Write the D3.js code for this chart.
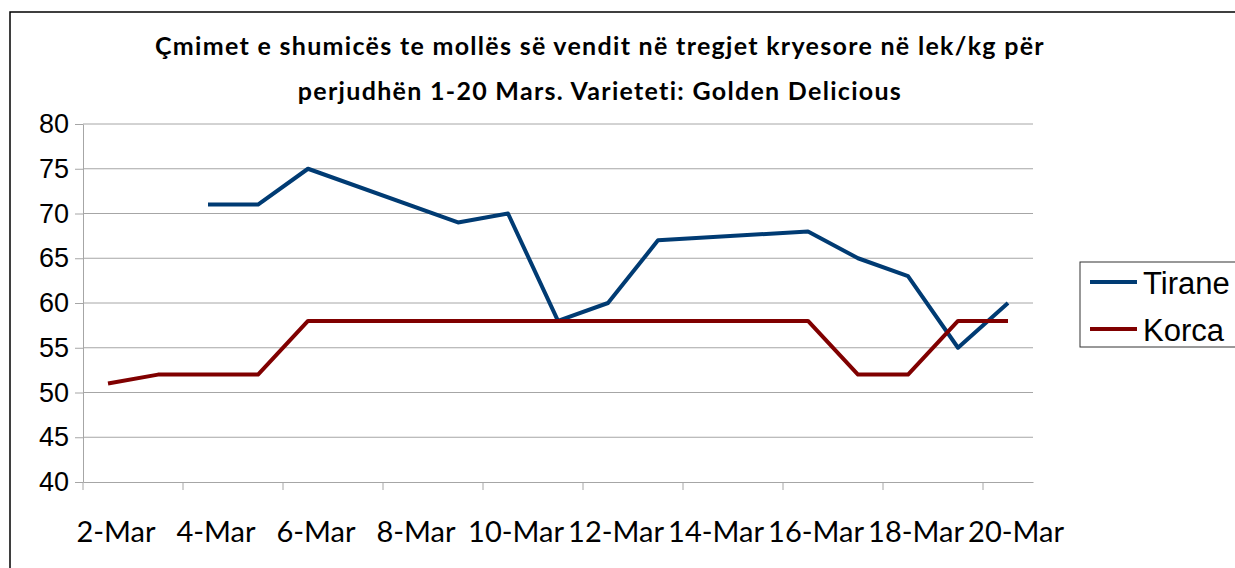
<!DOCTYPE html>
<html>
<head>
<meta charset="utf-8">
<script src="https://cdn.jsdelivr.net/npm/d3@7"></script>
<style>
  body { margin: 0; background: #fff; overflow: hidden; }
  svg { display: block; }
</style>
</head>
<body>
<div class="d3"></div>
<script>
'use strict';

// categories (days of March) and series values, null = no quote that day
const days = ['2-Mar','3-Mar','4-Mar','5-Mar','6-Mar','7-Mar','8-Mar','9-Mar','10-Mar','11-Mar',
              '12-Mar','13-Mar','14-Mar','15-Mar','16-Mar','17-Mar','18-Mar','19-Mar','20-Mar'];
const tirane = [null, null, 71, 71, 75, null, null, 69, 70, 58, 60, 67, null, null, 68, 65, 63, 55, 60];
const korca  = [51, 52, 52, 52, 58, 58, 58, 58, 58, 58, 58, 58, 58, 58, 58, 52, 52, 58, 58];
const yTicks = [40, 45, 50, 55, 60, 65, 70, 75, 80];
const titleLines = ['Çmimet e shumicës te mollës së vendit në tregjet kryesore në lek/kg për',
                    'perjudhën 1-20 Mars. Varieteti: Golden Delicious'];

const colors = {
  'Tirane': '#003b73',
  'Korca': '#800000',
  'grid': '#a6a6a6'
};

function drawChart() {
  const width = 1235, height = 568;
  const plot = {left: 83, right: 1033, top: 124, bottom: 482};

  const svg = d3.select('.d3').append('svg')
      .attr('width', width)
      .attr('height', height);

  // outer frame of the chart
  svg.append('rect')
      .attr('x', 10).attr('y', 12)
      .attr('width', 1400).attr('height', 700)
      .attr('fill', 'none')
      .attr('stroke', '#000')
      .attr('stroke-width', 1.5);

  // title
  svg.append('g').selectAll('text')
      .data(titleLines)
      .enter().append('text')
      .attr('x', 600)
      .attr('y', (d, i) => 55 + i * 45)
      .attr('text-anchor', 'middle')
      .style('font-family', 'Lato, sans-serif')
      .style('font-weight', 'bold')
      .style('font-size', '25px')
      .style('letter-spacing', '1.3px')
      .text(d => d);

  const x = d3.scaleBand().domain(days).range([plot.left, plot.right]);
  const y = d3.scaleLinear().domain([40, 80]).range([plot.bottom, plot.top]);
  const half = x.bandwidth() / 2;

  // horizontal gridlines
  svg.append('g').selectAll('line')
      .data(yTicks.slice(1))
      .enter().append('line')
      .attr('x1', plot.left).attr('x2', plot.right)
      .attr('y1', d => y(d)).attr('y2', d => y(d))
      .attr('stroke', colors.grid)
      .attr('stroke-width', 1);

  // y axis
  const yAxis = svg.append('g')
      .attr('transform', `translate(${plot.left},0)`)
      .call(d3.axisLeft(y).tickValues(yTicks).tickSize(8).tickPadding(6).tickSizeOuter(0));
  yAxis.select('.domain').attr('stroke', colors.grid);
  yAxis.selectAll('.tick line').attr('stroke', colors.grid);
  yAxis.selectAll('.tick text')
      .style('font-family', '"Liberation Sans", Arial, sans-serif')
      .style('font-size', '27px')
      .attr('fill', '#000');

  // x axis: tick marks between categories, every second day labelled
  const shown = days.filter((d, i) => i % 2 === 0);
  const xAxis = svg.append('g')
      .attr('transform', `translate(0,${plot.bottom})`)
      .call(d3.axisBottom(x).tickValues(shown).tickSize(8).tickSizeOuter(0));
  xAxis.select('.domain').attr('stroke', colors.grid);
  xAxis.selectAll('.tick line')
      .attr('stroke', colors.grid)
      .attr('x1', -half).attr('x2', -half);
  xAxis.selectAll('.tick text')
      .attr('y', 60)
      .attr('dy', 0)
      .attr('dx', 8)
      .style('font-family', 'Lato, sans-serif')
      .style('font-size', '29px')
      .attr('fill', '#000');

  // series lines, gaps are bridged
  const line = d3.line()
      .x(d => x(d.day) + half)
      .y(d => y(d.value));
  const series = [
    {name: 'Tirane', values: tirane},
    {name: 'Korca', values: korca}
  ];
  series.forEach(s => {
    const pts = days.map((d, i) => ({day: d, value: s.values[i]}))
        .filter(p => p.value !== null);
    svg.append('path')
        .datum(pts)
        .attr('d', line)
        .attr('fill', 'none')
        .attr('stroke', colors[s.name])
        .attr('stroke-width', 4)
        .attr('stroke-linejoin', 'round');
  });

  // legend
  const legend = svg.append('g');
  legend.append('rect')
      .attr('x', 1080).attr('y', 262)
      .attr('width', 200).attr('height', 85)
      .attr('fill', '#fff')
      .attr('stroke', '#333')
      .attr('stroke-width', 1);
  const item = legend.selectAll('.item')
      .data(series)
      .enter().append('g')
      .attr('class', 'item')
      .attr('transform', (d, i) => `translate(1090,${282 + i * 47})`);
  item.append('line')
      .attr('x1', 0).attr('x2', 47)
      .attr('stroke', d => colors[d.name])
      .attr('stroke-width', 4);
  item.append('text')
      .attr('x', 53).attr('y', 12)
      .style('font-family', '"Liberation Sans", Arial, sans-serif')
      .style('font-size', '31px')
      .text(d => d.name);
}

drawChart();
</script>
</body>
</html>
